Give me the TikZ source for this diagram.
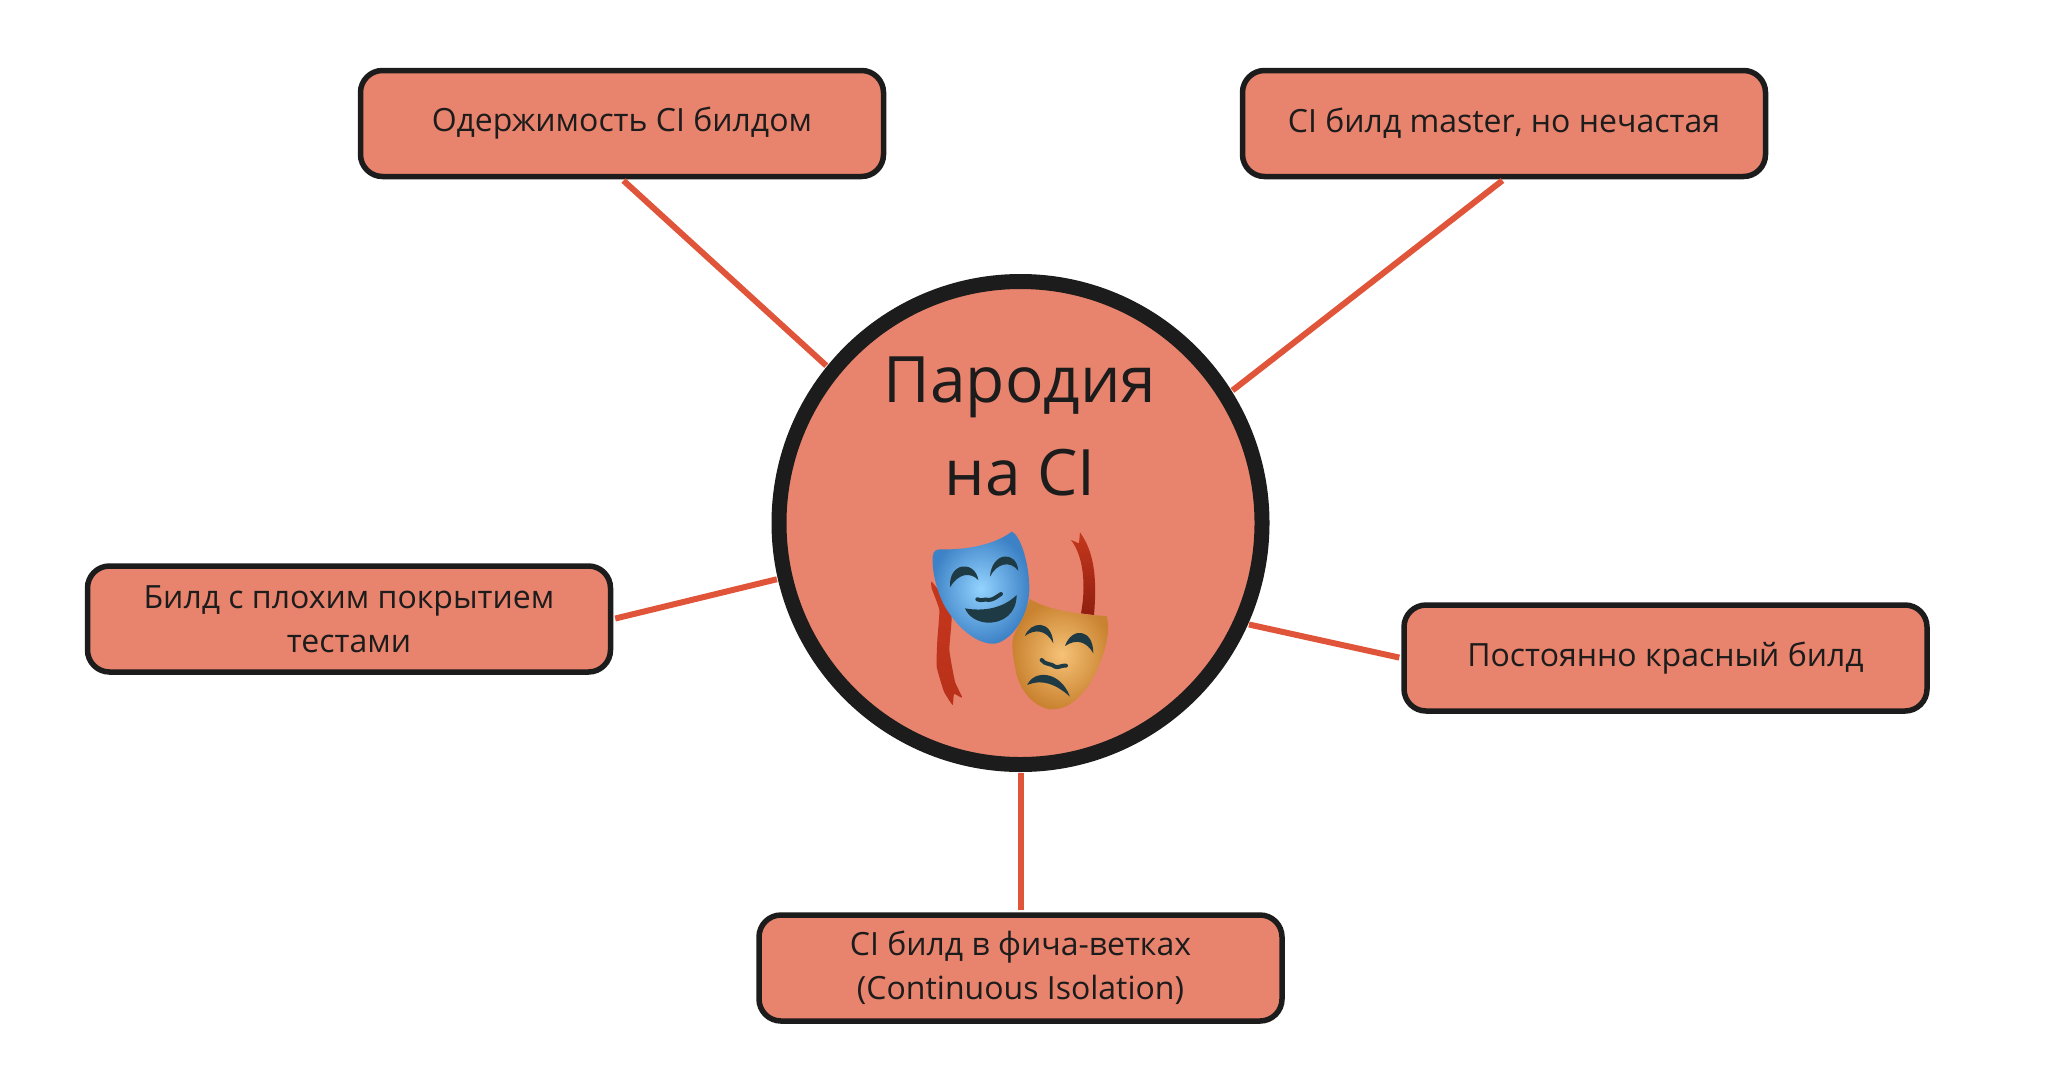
\documentclass[tikz,border=0pt]{standalone}
\usepackage{fontspec}
\setmainfont{Open Sans}
\definecolor{boxfill}{HTML}{E8836D}
\definecolor{ink}{HTML}{1C1C1C}
\definecolor{linkc}{HTML}{E0553A}
\definecolor{eyec}{HTML}{1E3A44}
\definecolor{ribA}{HTML}{C5371C}
\definecolor{ribB}{HTML}{B8301A}
\definecolor{ribC}{HTML}{8F1F10}
\definecolor{orgA}{HTML}{F6C277}
\definecolor{orgB}{HTML}{C9822F}
\definecolor{bluA}{HTML}{93D3FF}
\definecolor{bluB}{HTML}{3D82C6}
\tikzset{
  topic/.style={draw=ink,fill=boxfill,line width=5.5pt,rounded corners=22pt,minimum width=523pt,minimum height=106pt,inner sep=0pt,align=center,text=ink,font=\fontsize{32}{44}\selectfont},
  hub/.style={circle,draw=ink,fill=boxfill,line width=15pt,minimum size=483pt,inner sep=0pt},
  title/.style={text=ink,inner sep=0pt,font=\fontsize{64}{64}\selectfont},
  link/.style={draw=linkc,line width=6pt,shorten <=2pt,shorten >=1pt},
  feature/.style={fill=eyec,draw=none}
}
\begin{document}
\begin{tikzpicture}[x=1pt,y=-1pt]
\useasboundingbox (0,0) rectangle (2058,1066);
\node[hub] (hub) at (1020.5,523) {};
\node[topic] (a) at (622,123.5) {Одержимость CI билдом};
\node[topic] (b) at (1504,123.5) {CI билд master, но нечастая};
\node[topic] (c) at (349,619) {Билд с плохим покрытием\\тестами};
\node[topic] (d) at (1665.5,658) {Постоянно красный билд};
\node[topic] (e) at (1020.5,968) {CI билд в фича-ветках\\(Continuous Isolation)};
\node[title] (t1) at (1020,387) {Пародия};
\node[title] (t2) at (1020,473) {на CI};
\draw[link] (a.south) -- (hub.141);
\draw[link] (b.south) -- (hub.32.2);
\draw[link] (c.east) -- (hub.193.9);
\draw[link] (d.west) -- (hub.-24.4);
\draw[link] (e.north) -- (hub.south);
\begin{scope}[shift={(880,500)},x=0.3333pt,y=-0.3333pt]
  % ribbons
  \shade[top color=ribA,bottom color=ribB,draw=none] plot[smooth cycle,tension=0.25] coordinates {(155,245)(190,290)(215,350)(208,450)(225,545)(247,593)(222,582)(218,615)(192,575)(170,500)(172,420)(178,330)(155,265)};
  \shade[top color=ribA,bottom color=ribC,draw=none] (573,120)--(597,130)--(600,97) .. controls (630,140) and (655,200) .. (642,345) -- (603,340) .. controls (618,260) and (612,170) .. cycle;
  % orange mask
  \shade[inner color=orgA,outer color=orgB,draw=none] (450,297) .. controls (490,325) and (590,345) .. (680,348) .. controls (695,400) and (670,480) .. (630,550) .. controls (590,610) and (550,630) .. (510,628) .. controls (460,620) and (415,570) .. (405,500) .. controls (397,460) and (395,430) .. (400,410) -- cycle;
  \path[feature] (435,408) .. controls (450,365) and (515,355) .. (520,430) .. controls (500,390) and (465,385) .. cycle;
  \path[feature] (555,438) .. controls (575,380) and (640,385) .. (640,460) .. controls (620,425) and (590,415) .. cycle;
  \draw[eyec,line width=4pt,line cap=round] (485,480) .. controls (495,495) and (515,490) .. (525,500) .. controls (535,505) and (545,495) .. (558,497);
  \path[feature] (442,555) .. controls (460,510) and (540,510) .. (570,590) .. controls (530,555) and (490,535) .. cycle;
  % blue mask
  \shade[inner color=bluA,outer color=bluB,draw=none] (158,170) .. controls (160,150) and (170,148) .. (185,148) .. controls (270,150) and (350,130) .. (395,95) .. controls (415,100) and (445,170) .. (448,260) .. controls (450,340) and (400,420) .. (345,431) .. controls (290,435) and (230,380) .. (195,320) .. controls (170,275) and (155,210) .. cycle;
  \path[feature] (210,262) .. controls (205,185) and (285,180) .. (295,240) .. controls (270,215) and (235,220) .. cycle;
  \path[feature] (330,230) .. controls (335,155) and (410,150) .. (415,212) .. controls (390,180) and (350,190) .. cycle;
  \draw[eyec,line width=4pt,line cap=round] (292,298) .. controls (305,305) and (315,295) .. (325,300) .. controls (340,300) and (350,290) .. (363,282);
  \path[feature] (255,325) .. controls (310,335) and (370,325) .. (410,285) .. controls (410,340) and (370,370) .. (320,368) .. controls (290,365) and (265,350) .. cycle;
\end{scope}
\end{tikzpicture}
\end{document}
